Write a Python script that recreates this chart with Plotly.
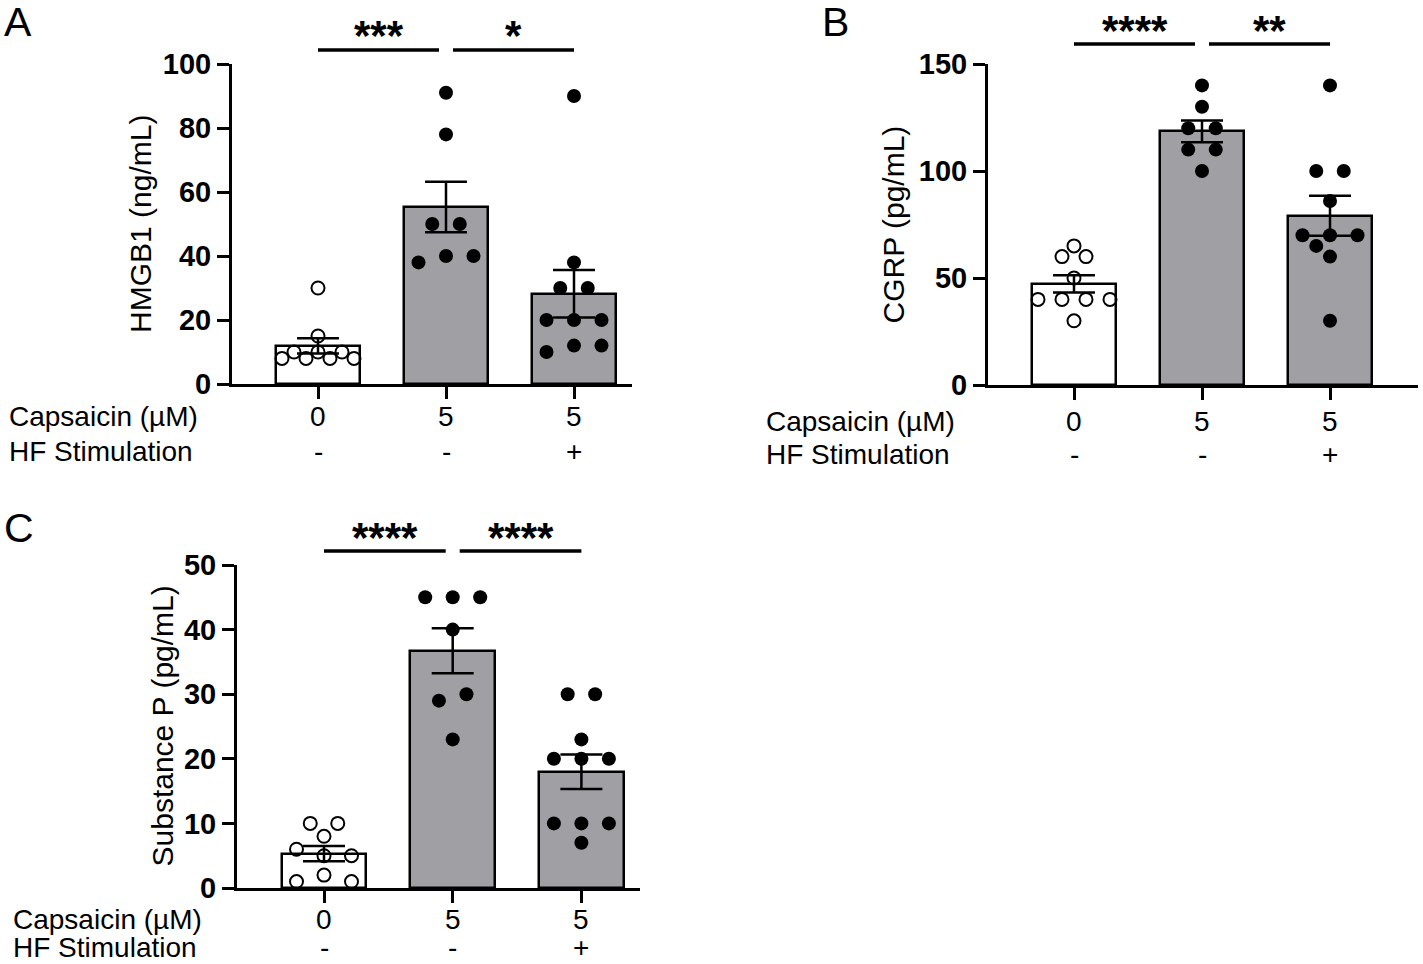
import numpy as np
import plotly.graph_objects as go

# ---------------- data ----------------
capsaicin_labels = ["0", "5", "5"]
hf_labels = ["-", "-", "+"]

hmgb1_ctrl = [30, 15, 10, 10, 10, 8, 8, 8, 8]
hmgb1_caps = [91, 78, 50, 50, 38, 40, 40]
hmgb1_hf = [90, 38, 30, 30, 20, 20, 20, 10, 12, 12]

cgrp_ctrl = [65, 60, 60, 50, 40, 40, 40, 40, 30]
cgrp_caps = [140, 130, 120, 120, 110, 110, 100]
cgrp_hf = [140, 100, 100, 86, 70, 65, 70, 70, 60, 30]

sp_ctrl = [10, 10, 8, 6, 5, 5, 1, 2, 1]
sp_caps = [45, 45, 45, 40, 29, 30, 23]
sp_hf = [30, 30, 23, 20, 20, 20, 10, 10, 10, 7]

ticks_A = [0, 20, 40, 60, 80, 100]
ticks_B = [0, 50, 100, 150]
ticks_C = [0, 10, 20, 30, 40, 50]

sig_A = ["***", "*"]
sig_B = ["****", "**"]
sig_C = ["****", "****"]

titles = ["HMGB1 (ng/mL)", "CGRP (pg/mL)", "Substance P (pg/mL)"]
letters = ["A", "B", "C"]

# ---------------- layout geometry (pixels) ----------------
W, H = 1423, 964
FONT = "Liberation Sans, Arial, sans-serif"
panels = [
    dict(groups=[hmgb1_ctrl, hmgb1_caps, hmgb1_hf], ticks=ticks_A, sig=sig_A,
         left=232, right=632, top=64, bottom=384, c0=318, unit=128, ymax=100,
         title_x=140, letter=(2, 22), sig_line=50, row1=416, row2=451, rowlab_x=7),
    dict(groups=[cgrp_ctrl, cgrp_caps, cgrp_hf], ticks=ticks_B, sig=sig_B,
         left=988, right=1418, top=64, bottom=385, c0=1074, unit=128, ymax=150,
         title_x=893, letter=(820, 22), sig_line=44, row1=421, row2=454, rowlab_x=764),
    dict(groups=[sp_ctrl, sp_caps, sp_hf], ticks=ticks_C, sig=sig_C,
         left=237, right=640, top=565, bottom=888, c0=324, unit=128.7, ymax=50,
         title_x=162, letter=(2, 528), sig_line=551, row1=919, row2=947, rowlab_x=11),
]

def px(x):
    return x / W

def py(y):
    return 1 - y / H


def swarm(values, ppu, s0=27.5, wmax=72.0, t=7.0, d=13.5, maxn=4):
    """GraphPad-like scatter spreading: returns horizontal offsets in pixels."""
    vals = np.asarray(values, dtype=float)
    order = sorted(range(len(vals)), key=lambda i: (-vals[i], i))
    clusters = []
    cur = [order[0]]
    for a, b in zip(order[:-1], order[1:]):
        if (vals[a] - vals[b]) * ppu > t:
            clusters.append(cur)
            cur = [b]
        else:
            cur.append(b)
    clusters.append(cur)

    def split(c):
        if len(c) <= maxn:
            return [c]
        gaps = [vals[c[k]] - vals[c[k + 1]] for k in range(len(c) - 1)]
        k = int(np.argmax(gaps))
        return split(c[:k + 1]) + split(c[k + 1:])

    rows = []
    for c in clusters:
        rows.extend(split(c))
    maxrow = max(len(r) for r in rows)
    s = s0 if maxrow < 2 else min(s0, wmax / (maxrow - 1))
    offs = np.zeros(len(vals))
    placed = []
    for r in rows:
        r = sorted(r)
        n = len(r)
        base = [(k - (n - 1) / 2) * s for k in range(n)]
        for shift in [0, -s / 2, s / 2, -s, s, -1.5 * s, 1.5 * s]:
            ok = True
            for k, i in enumerate(r):
                xo = base[k] + shift
                yo = vals[i] * ppu
                for (xp_, yp_) in placed:
                    if np.hypot(xo - xp_, yo - yp_) < d:
                        ok = False
                        break
                if not ok:
                    break
            if ok:
                break
        for k, i in enumerate(r):
            offs[i] = base[k] + shift
            placed.append((offs[i], vals[i] * ppu))
    return offs


fig = go.Figure()
annotations = []
shapes = []
layout_axes = {}

bar_colors = ["white", "#A0A0A4", "#A0A0A4"]
TXT = 28

for p_i, P in enumerate(panels):
    sfx = "" if p_i == 0 else str(p_i + 1)
    xa, ya = "x" + sfx, "y" + sfx
    ppu = (P["bottom"] - P["top"]) / P["ymax"]
    means = [float(np.mean(g)) for g in P["groups"]]
    sems = [float(np.std(g, ddof=1) / np.sqrt(len(g))) for g in P["groups"]]
    cats = list(range(len(P["groups"])))

    fig.add_trace(go.Bar(
        x=cats, y=means, width=0.66, xaxis=xa, yaxis=ya,
        marker=dict(color=bar_colors, line=dict(color="black", width=2.5)),
        error_y=dict(type="data", array=sems, visible=True, color="black",
                     thickness=2.5, width=21),
        showlegend=False, hoverinfo="skip"))

    for g_i, g in enumerate(P["groups"]):
        offs = swarm(g, ppu) / P["unit"]
        xs = [g_i + o for o in offs]
        if g_i == 0:
            mk = dict(symbol="circle-open", size=13, color="black", line=dict(width=2))
        else:
            mk = dict(symbol="circle", size=14, color="black")
        fig.add_trace(go.Scatter(x=xs, y=g, mode="markers", marker=mk,
                                 xaxis=xa, yaxis=ya, showlegend=False,
                                 cliponaxis=False, hoverinfo="skip"))

    x0 = (P["left"] - P["c0"]) / P["unit"]
    x1 = (P["right"] - P["c0"]) / P["unit"]
    layout_axes["xaxis" + sfx] = dict(
        domain=[px(P["left"]), px(P["right"])], range=[x0, x1], anchor=ya,
        showline=True, linecolor="black", linewidth=3, ticks="outside",
        ticklen=12, tickwidth=3, tickcolor="black", tickvals=cats,
        showticklabels=False, showgrid=False, zeroline=False, fixedrange=True,
        automargin=False)
    layout_axes["yaxis" + sfx] = dict(
        domain=[py(P["bottom"]), py(P["top"])], range=[0, P["ymax"]], anchor=xa,
        showline=True, linecolor="black", linewidth=3, ticks="outside",
        ticklen=12, tickwidth=3, tickcolor="black", tickvals=P["ticks"],
        ticktext=[str(t) for t in P["ticks"]],
        tickfont=dict(family=FONT, size=29, color="black", weight="bold"),
        showgrid=False, zeroline=False, fixedrange=True, automargin=False)

    # category tick rows
    for c, (a, b) in enumerate(zip(capsaicin_labels, hf_labels)):
        annotations.append(dict(x=c, y=py(P["row1"]), xref=xa, yref="paper", text=a,
                                showarrow=False, font=dict(family=FONT, size=TXT, color="black"),
                                xanchor="center", yanchor="middle"))
        annotations.append(dict(x=c, y=py(P["row2"]), xref=xa, yref="paper", text=b,
                                showarrow=False, font=dict(family=FONT, size=TXT, color="black"),
                                xanchor="center", yanchor="middle"))
    annotations.append(dict(x=px(P["rowlab_x"]), y=py(P["row1"]), xref="paper", yref="paper",
                            text="Capsaicin (µM)", showarrow=False, xanchor="left", yanchor="middle",
                            font=dict(family=FONT, size=TXT, color="black")))
    annotations.append(dict(x=px(P["rowlab_x"]), y=py(P["row2"]), xref="paper", yref="paper",
                            text="HF Stimulation", showarrow=False, xanchor="left", yanchor="middle",
                            font=dict(family=FONT, size=TXT, color="black")))

    # y title
    annotations.append(dict(x=px(P["title_x"]), y=py((P["top"] + P["bottom"]) / 2),
                            xref="paper", yref="paper", text=titles[p_i], textangle=-90,
                            showarrow=False, xanchor="center", yanchor="middle",
                            font=dict(family=FONT, size=30, color="black")))
    # panel letter
    annotations.append(dict(x=px(P["letter"][0]), y=py(P["letter"][1]), xref="paper", yref="paper",
                            text=letters[p_i], showarrow=False, xanchor="left", yanchor="middle",
                            font=dict(family=FONT, size=41, color="black")))

    # significance bars
    gap = 7
    for k, lab in enumerate(P["sig"]):
        xa_px = P["c0"] + k * P["unit"] + (gap if k > 0 else 0)
        xb_px = P["c0"] + (k + 1) * P["unit"] - (gap if k == 0 else 0)
        shapes.append(dict(type="line", xref="paper", yref="paper",
                           x0=px(xa_px), x1=px(xb_px), y0=py(P["sig_line"]), y1=py(P["sig_line"]),
                           line=dict(color="black", width=3.5)))
        annotations.append(dict(x=px((xa_px + xb_px) / 2), y=py(P["sig_line"] - 14),
                                xref="paper", yref="paper", text=lab, showarrow=False,
                                xanchor="center", yanchor="middle",
                                font=dict(family=FONT, size=42, color="black", weight="bold")))

fig.update_layout(
    width=W, height=H, margin=dict(l=0, r=0, t=0, b=0, autoexpand=False),
    paper_bgcolor="white", plot_bgcolor="white",
    annotations=annotations, shapes=shapes, bargap=0, **layout_axes)

fig.write_html(
    "out.html",
    config={"displayModeBar": False},
    post_script="document.body.style.margin='0';document.body.style.padding='0';"
                "document.body.style.overflow='hidden';",
)
